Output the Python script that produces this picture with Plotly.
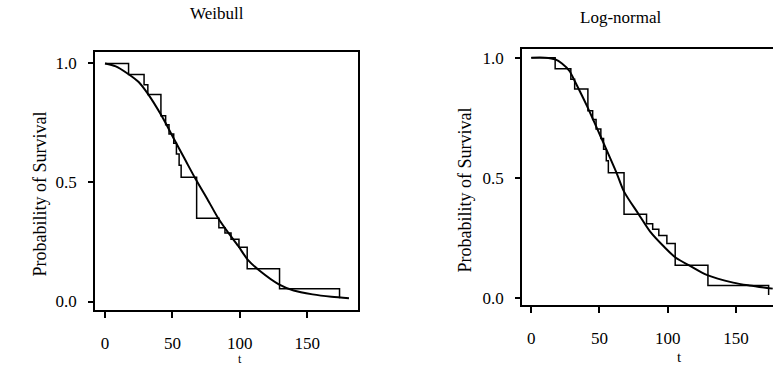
import plotly.graph_objects as go

# Kaplan-Meier step estimate (same data in both panels)
km_t = [0, 17.5, 29, 31.8, 41.5, 45, 47.5, 51, 53, 55, 56.5, 68, 84.5, 89, 93.5, 99.4, 105.5, 129.5, 174, 174]
km_s = [1.0, 0.954, 0.911, 0.870, 0.780, 0.743, 0.704, 0.665, 0.620, 0.572, 0.522, 0.350, 0.310, 0.288, 0.262, 0.228, 0.138, 0.054, 0.054, 0.014]

# Fitted Weibull survival curve
wb_t = [0, 8, 17, 25, 32, 42, 52, 60, 67, 76, 84, 92, 99, 106, 115, 129, 140, 154, 168, 181]
wb_s = [1.0, 0.988, 0.957, 0.922, 0.871, 0.78, 0.674, 0.59, 0.517, 0.43, 0.35, 0.285, 0.232, 0.175, 0.128, 0.072, 0.046, 0.03, 0.02, 0.014]

# Fitted log-normal survival curve
ln_t = [0, 10, 17.6, 22.5, 28, 32.2, 40.8, 50.5, 62.7, 68, 78.6, 87, 97, 106, 116.4, 128.6, 148, 160, 177]
ln_s = [1.0, 1.0, 0.993, 0.976, 0.945, 0.899, 0.80, 0.677, 0.519, 0.444, 0.351, 0.279, 0.217, 0.169, 0.135, 0.098, 0.066, 0.054, 0.041]

x_ticks = [0, 50, 100, 150]
y_ticks = [0.0, 0.5, 1.0]
y_ticklabels = ["0.0", "0.5", "1.0"]
titles = ["Weibull", "Log-normal"]
y_title = "Probability of Survival"
x_title = "t"

FONT = "Liberation Serif, Times New Roman, serif"
W, H = 773, 366

fig = go.Figure()
fig.add_trace(go.Scatter(x=km_t, y=km_s, mode="lines", line=dict(color="black", width=1.5, shape="hv"),
                         xaxis="x", yaxis="y", showlegend=False))
fig.add_trace(go.Scatter(x=wb_t, y=wb_s, mode="lines", line=dict(color="black", width=2, shape="spline", smoothing=0.8),
                         xaxis="x", yaxis="y", showlegend=False))
fig.add_trace(go.Scatter(x=km_t, y=km_s, mode="lines", line=dict(color="black", width=1.5, shape="hv"),
                         xaxis="x2", yaxis="y2", showlegend=False))
fig.add_trace(go.Scatter(x=ln_t, y=ln_s, mode="lines", line=dict(color="black", width=2, shape="spline", smoothing=0.8),
                         xaxis="x2", yaxis="y2", showlegend=False))

def px_x(a, b):
    return [a / W, b / W]

def px_y(top, bottom):
    return [(H - bottom) / H, (H - top) / H]

common_x = dict(tickmode="array", tickvals=x_ticks, ticks="outside", ticklen=6, tickwidth=1.5,
                tickcolor="black", showline=True, linecolor="black", linewidth=1.5, showgrid=False,
                zeroline=False, tickfont=dict(family=FONT, size=17, color="black"),
                ticklabelstandoff=10)
common_y = dict(tickmode="array", tickvals=y_ticks, ticktext=y_ticklabels, ticks="outside", ticklen=5,
                tickwidth=1.5, tickcolor="black", showline=True, linecolor="black", linewidth=1.5,
                showgrid=False, zeroline=False, tickfont=dict(family=FONT, size=17, color="black"),
                ticklabelstandoff=8)

def txt(text, x, y, size, angle=0):
    return dict(text=text, x=x / W, y=(H - y) / H, xref="paper", yref="paper", showarrow=False,
                font=dict(family=FONT, size=size, color="black"), xanchor="center", yanchor="middle",
                textangle=angle)

fig.update_layout(
    width=W, height=H, margin=dict(l=0, r=0, t=0, b=0),
    paper_bgcolor="white", plot_bgcolor="white",
    xaxis=dict(domain=px_x(95, 358), range=[-7.4, 187.7], anchor="y", mirror=True, **common_x),
    yaxis=dict(domain=px_y(52, 313), range=[-0.0375, 1.05], anchor="x", mirror=True, **common_y),
    xaxis2=dict(domain=px_x(522, 773), range=[-6.8, 177.2], anchor="y2", mirror=True, **common_x),
    yaxis2=dict(domain=px_y(49, 308), range=[-0.029, 1.038], anchor="x2", mirror=False, **common_y),
    annotations=[
        txt(titles[0], 217, 14, 17),
        txt(titles[1], 620, 18, 17),
        txt(y_title, 40, 196, 18, -90),
        txt(y_title, 465, 192, 18, -90),
        txt(x_title, 240, 362, 12),
        txt(x_title, 679, 360, 15),
    ],
)

fig.write_html("out.html")
